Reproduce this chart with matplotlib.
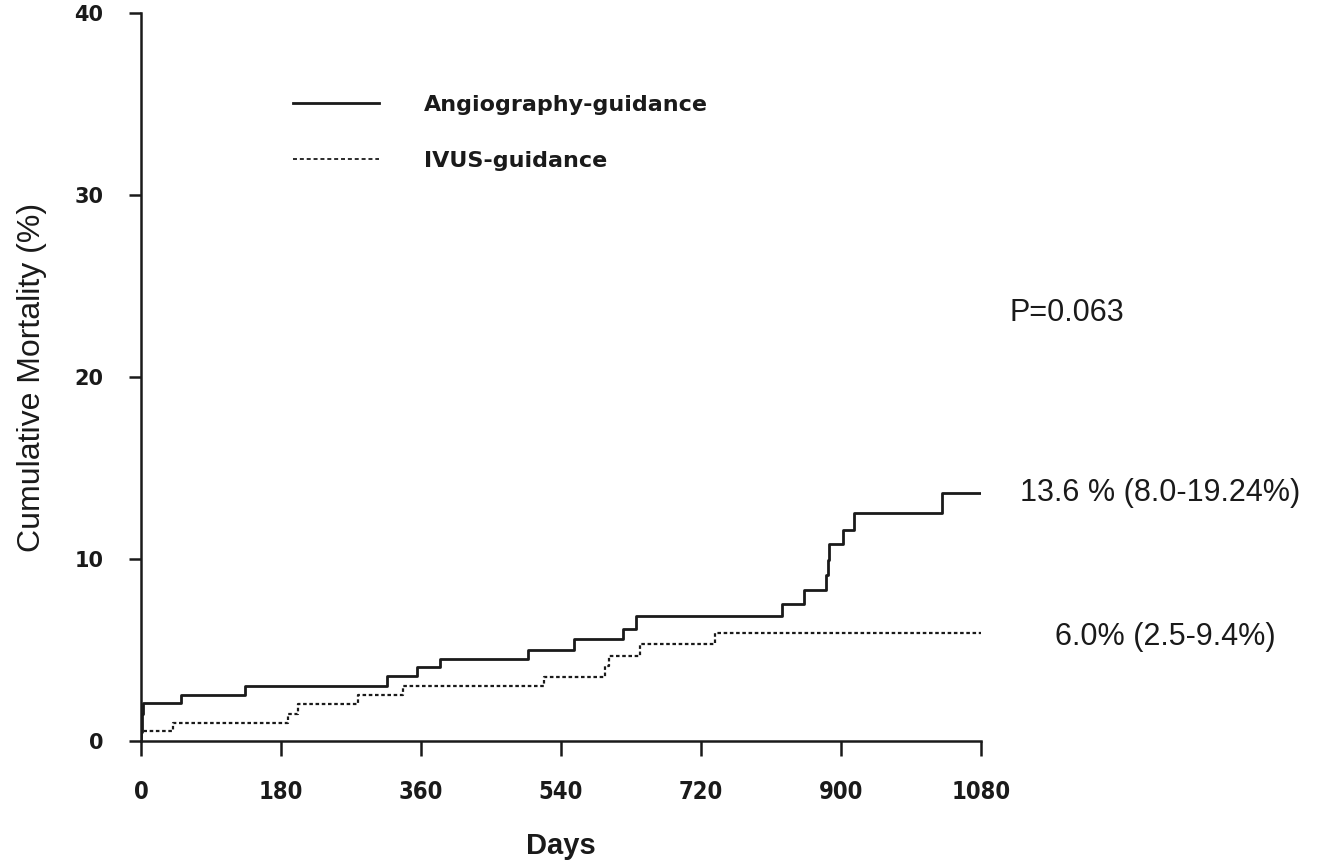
import matplotlib
matplotlib.use('Agg')
import matplotlib.pyplot as plt
from matplotlib.lines import Line2D

# Kaplan-Meier style cumulative mortality
angio_days = [0, 0, 1, 3, 52, 134, 316, 355, 384, 498, 557, 620, 636, 824, 852, 881, 883, 885, 902, 916, 1030, 1080]
angio_pct = [0, 0.5, 1.5, 2.1, 2.55, 3.0, 3.55, 4.05, 4.5, 5.0, 5.6, 6.15, 6.85, 7.55, 8.3, 9.1, 9.95, 10.8, 11.6, 12.5, 13.6, 13.6]

ivus_days = [0, 0, 41, 189, 202, 279, 337, 518, 597, 602, 642, 738, 1080]
ivus_pct = [0, 0.55, 1.0, 1.5, 2.05, 2.5, 3.0, 3.5, 4.1, 4.65, 5.35, 5.95, 5.95]

x_ticks = [0, 180, 360, 540, 720, 900, 1080]
y_ticks = [0, 10, 20, 30, 40]
labels = ['Angiography-guidance', 'IVUS-guidance']
notes = ['P=0.063', '13.6 % (8.0-19.24%)', '6.0% (2.5-9.4%)']

ink = '#1a1a1a'

fig = plt.figure(figsize=(13.39, 8.64), dpi=100)
ax = fig.add_axes([0.1053, 0.1424, 0.6274, 0.8426])

ax.step(angio_days, angio_pct, where='post', color=ink, lw=2.0)
ax.step(ivus_days, ivus_pct, where='post', color=ink, lw=1.6, dashes=(1.6, 1.2))

ax.set_xlim(0, 1080)
ax.set_ylim(0, 40)
ax.set_xticks(x_ticks)
ax.set_yticks(y_ticks)

for s in ['top', 'right']:
    ax.spines[s].set_visible(False)
for s in ['left', 'bottom']:
    ax.spines[s].set_linewidth(1.8)
    ax.spines[s].set_color(ink)

ax.tick_params(axis='x', direction='out', length=11, width=1.8, pad=17, color=ink)
ax.tick_params(axis='y', direction='out', length=9, width=1.8, pad=18, color=ink)
for t in ax.get_xticklabels():
    t.set_fontfamily('DejaVu Sans')
    t.set_fontstretch('condensed')
    t.set_fontweight('bold')
    t.set_fontsize(17)
    t.set_color(ink)
for t in ax.get_yticklabels():
    t.set_fontfamily('DejaVu Sans')
    t.set_fontweight('bold')
    t.set_fontsize(15)
    t.set_color(ink)

ax.set_xlabel('Days', fontsize=21, fontweight='bold', family='Liberation Sans',
              color=ink, labelpad=20)
ax.set_ylabel('Cumulative Mortality (%)', fontsize=23, family='Liberation Sans',
              color=ink, labelpad=20)

handles = [Line2D([], [], color=ink, lw=2.0),
           Line2D([], [], color=ink, lw=1.3, dashes=(2.2, 1.6))]
leg = ax.legend(handles, labels, loc='upper left', bbox_to_anchor=(0.181, 0.887),
                frameon=False, handlelength=3.85, handletextpad=2.05, labelspacing=1.6,
                borderpad=0, borderaxespad=0,
                prop={'family': 'DejaVu Sans', 'weight': 'bold', 'size': 16})
for t in leg.get_texts():
    t.set_color(ink)

ax.text(1117, 23.5, notes[0], fontsize=22, family='Liberation Sans', color=ink,
        va='center', ha='left', clip_on=False)
ax.text(1130, 13.6, notes[1], fontsize=22, family='Liberation Sans', color=ink,
        va='center', ha='left', clip_on=False)
ax.text(1175, 5.7, notes[2], fontsize=22, family='Liberation Sans', color=ink,
        va='center', ha='left', clip_on=False)

fig.savefig('out.png', dpi=100)
